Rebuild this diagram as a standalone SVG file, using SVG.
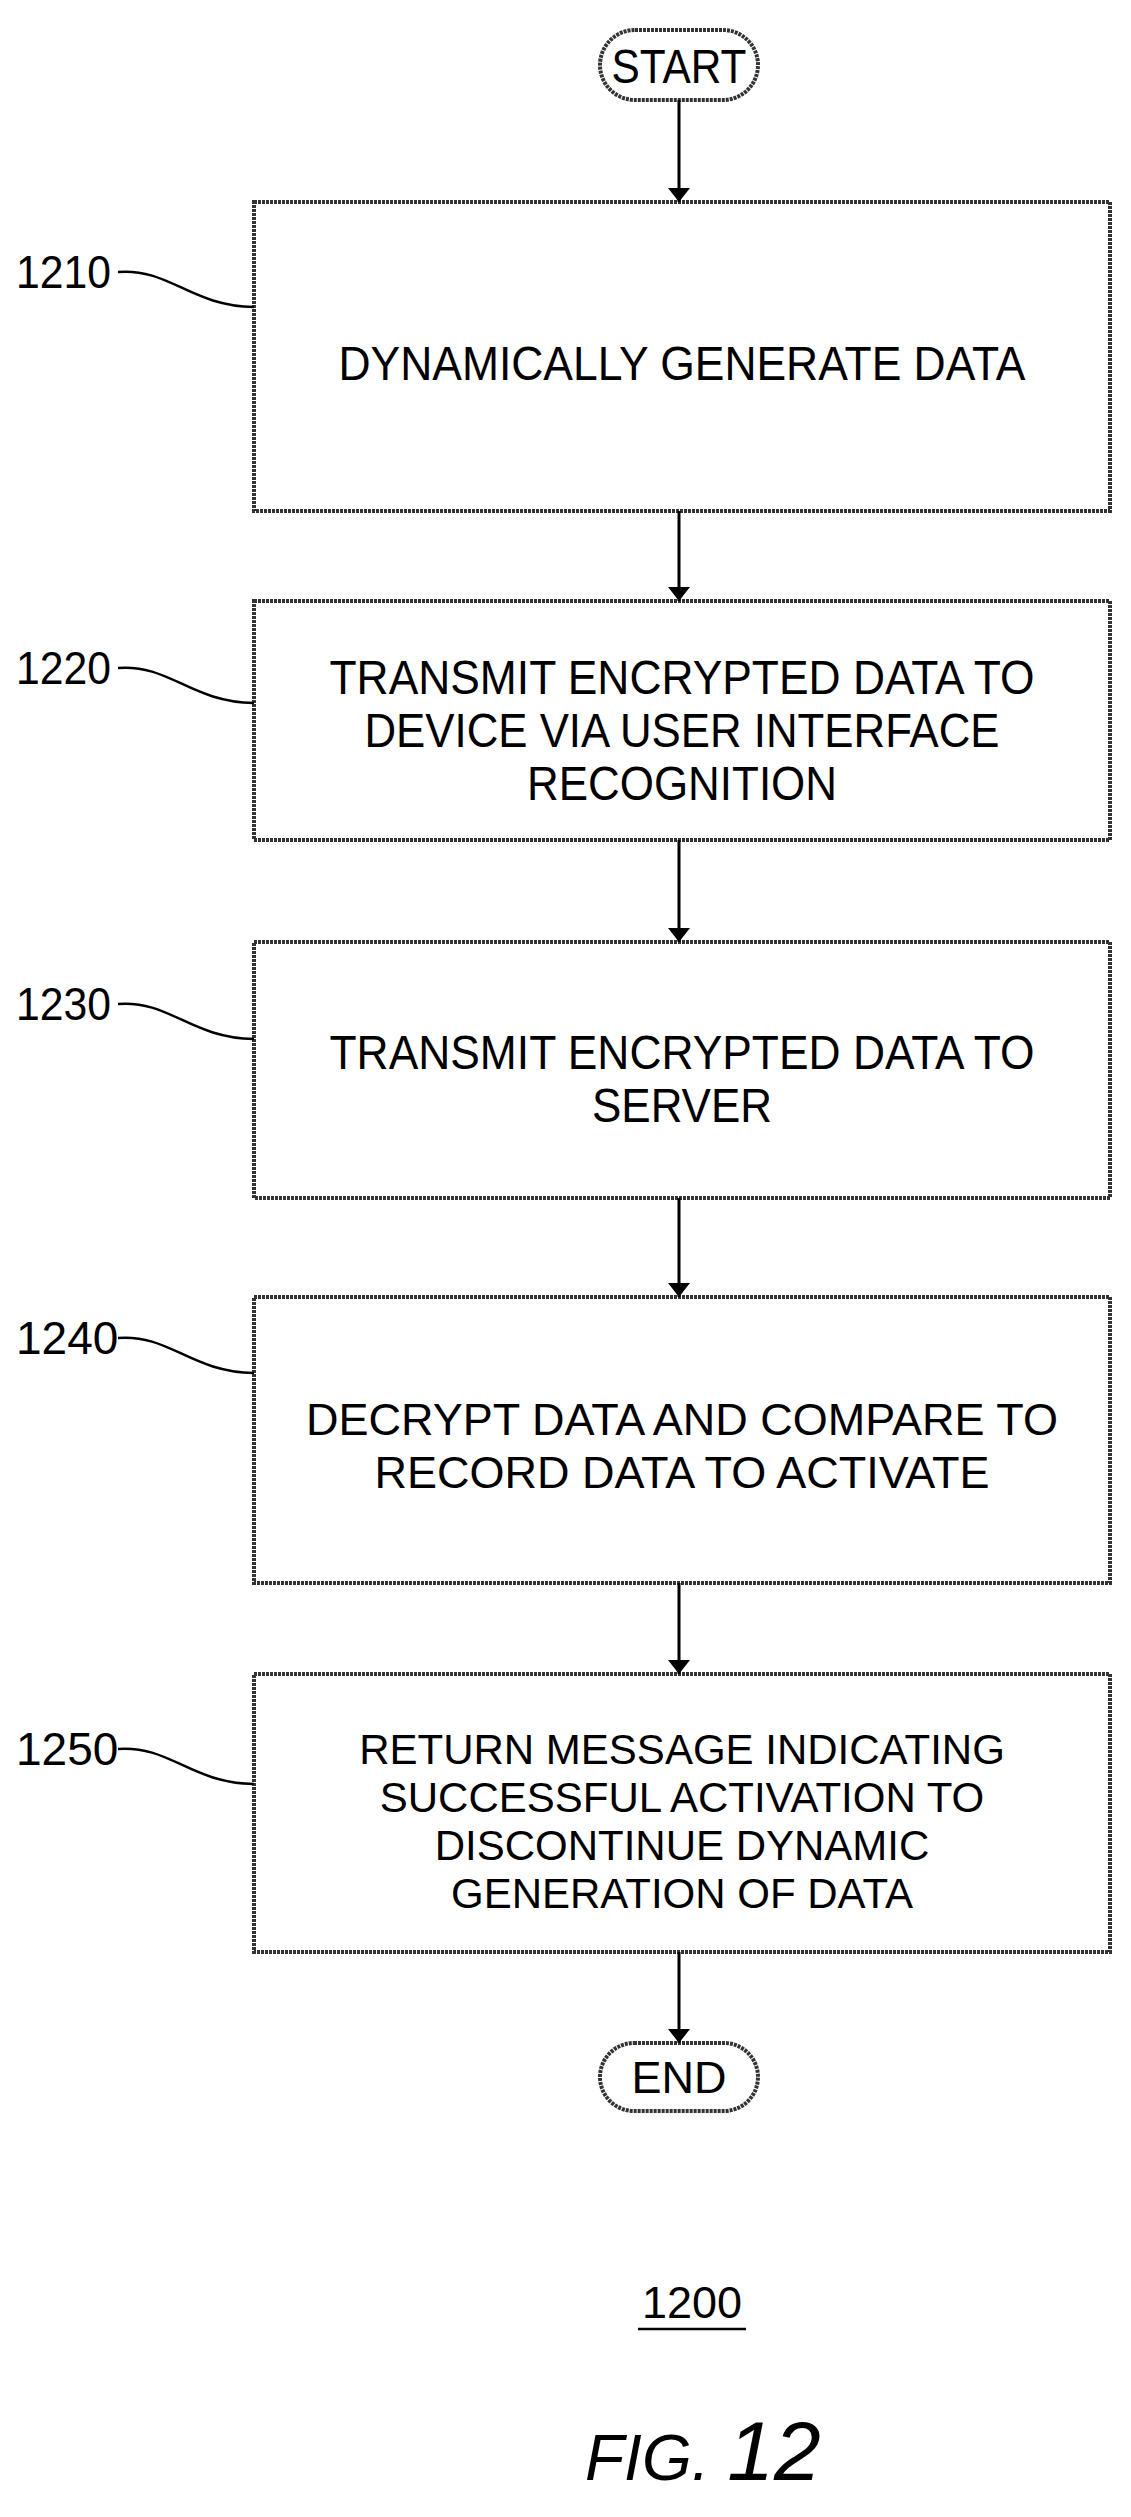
<svg xmlns="http://www.w3.org/2000/svg" width="1131" height="2517" viewBox="0 0 1131 2517">
<style>
.box{fill:#fff;stroke:#333;stroke-width:4;stroke-dasharray:3 1}
.t{font-family:"Liberation Sans",Arial,sans-serif;font-size:48px;fill:#000;text-anchor:middle}
.b{font-family:"Liberation Sans",Arial,sans-serif;font-size:45px;fill:#000;text-anchor:middle}
.c{font-family:"Liberation Sans",Arial,sans-serif;font-size:42px;fill:#000;text-anchor:middle}
.n{font-family:"Liberation Sans",Arial,sans-serif;font-size:46px;fill:#000}
.ln{fill:none;stroke:#000;stroke-width:3}
.ld{fill:none;stroke:#000;stroke-width:2.5}
</style>
<defs>
<marker id="ah" viewBox="0 0 10 10" refX="10" refY="5" markerWidth="14" markerHeight="22" orient="auto" markerUnits="userSpaceOnUse" preserveAspectRatio="none"><path d="M0,0 L10,5 L0,10 Z" fill="#000"/></marker></defs>
<g id="start"><rect class="box" x="600" y="30" width="158" height="70" rx="35"/><text class="t" x="679" y="83" textLength="135" lengthAdjust="spacingAndGlyphs">START</text></g>
<g id="n1210"><rect class="box" x="254" y="202" width="856" height="309"/><text class="t" x="682" y="380" textLength="687" lengthAdjust="spacingAndGlyphs">DYNAMICALLY GENERATE DATA</text><text class="n" x="16" y="288" textLength="95" lengthAdjust="spacingAndGlyphs">1210</text><path class="ld" d="M118,272 C170,268 190,306 254,307"/></g>
<g id="n1220"><rect class="box" x="254" y="601" width="856" height="239"/><text class="t" x="682" y="694" textLength="705" lengthAdjust="spacingAndGlyphs">TRANSMIT ENCRYPTED DATA TO</text><text class="t" x="682" y="747" textLength="635" lengthAdjust="spacingAndGlyphs">DEVICE VIA USER INTERFACE</text><text class="t" x="682" y="800" textLength="310" lengthAdjust="spacingAndGlyphs">RECOGNITION</text><text class="n" x="16" y="684" textLength="95" lengthAdjust="spacingAndGlyphs">1220</text><path class="ld" d="M118,668 C170,664 190,702 254,703"/></g>
<g id="n1230"><rect class="box" x="254" y="942" width="856" height="256"/><text class="t" x="682" y="1069" textLength="705" lengthAdjust="spacingAndGlyphs">TRANSMIT ENCRYPTED DATA TO</text><text class="t" x="682" y="1122" textLength="180" lengthAdjust="spacingAndGlyphs">SERVER</text><text class="n" x="16" y="1020" textLength="95" lengthAdjust="spacingAndGlyphs">1230</text><path class="ld" d="M118,1004 C170,1000 190,1038 254,1039"/></g>
<g id="n1240"><rect class="box" x="254" y="1297" width="856" height="286"/><text class="b" x="682" y="1435">DECRYPT DATA AND COMPARE TO</text><text class="b" x="682" y="1488">RECORD DATA TO ACTIVATE</text><text class="n" x="16" y="1354">1240</text><path class="ld" d="M118,1338 C170,1334 190,1372 254,1373"/></g>
<g id="n1250"><rect class="box" x="254" y="1674" width="856" height="278"/><text class="c" x="682" y="1764">RETURN MESSAGE INDICATING</text><text class="c" x="682" y="1812">SUCCESSFUL ACTIVATION TO</text><text class="c" x="682" y="1860">DISCONTINUE DYNAMIC</text><text class="c" x="682" y="1908">GENERATION OF DATA</text><text class="n" x="16" y="1765">1250</text><path class="ld" d="M118,1749 C170,1745 190,1783 254,1784"/></g>
<g id="end"><rect class="box" x="600" y="2043" width="158" height="68" rx="34"/><text class="b" x="679" y="2093">END</text></g>
<g id="connectors">
<line class="ln" x1="679" y1="100" x2="679" y2="202" marker-end="url(#ah)"/>
<line class="ln" x1="679" y1="511" x2="679" y2="601" marker-end="url(#ah)"/>
<line class="ln" x1="679" y1="840" x2="679" y2="942" marker-end="url(#ah)"/>
<line class="ln" x1="679" y1="1198" x2="679" y2="1297" marker-end="url(#ah)"/>
<line class="ln" x1="679" y1="1583" x2="679" y2="1674" marker-end="url(#ah)"/>
<line class="ln" x1="679" y1="1952" x2="679" y2="2043" marker-end="url(#ah)"/>
</g>
<text class="b" x="692" y="2318">1200</text><line x1="638" y1="2329" x2="746" y2="2329" stroke="#000" stroke-width="2.5"/>
<text x="585" y="2480" font-family="Liberation Sans,Arial,sans-serif" font-style="italic" font-size="64">FIG. <tspan font-size="84">12</tspan></text>
</svg>
